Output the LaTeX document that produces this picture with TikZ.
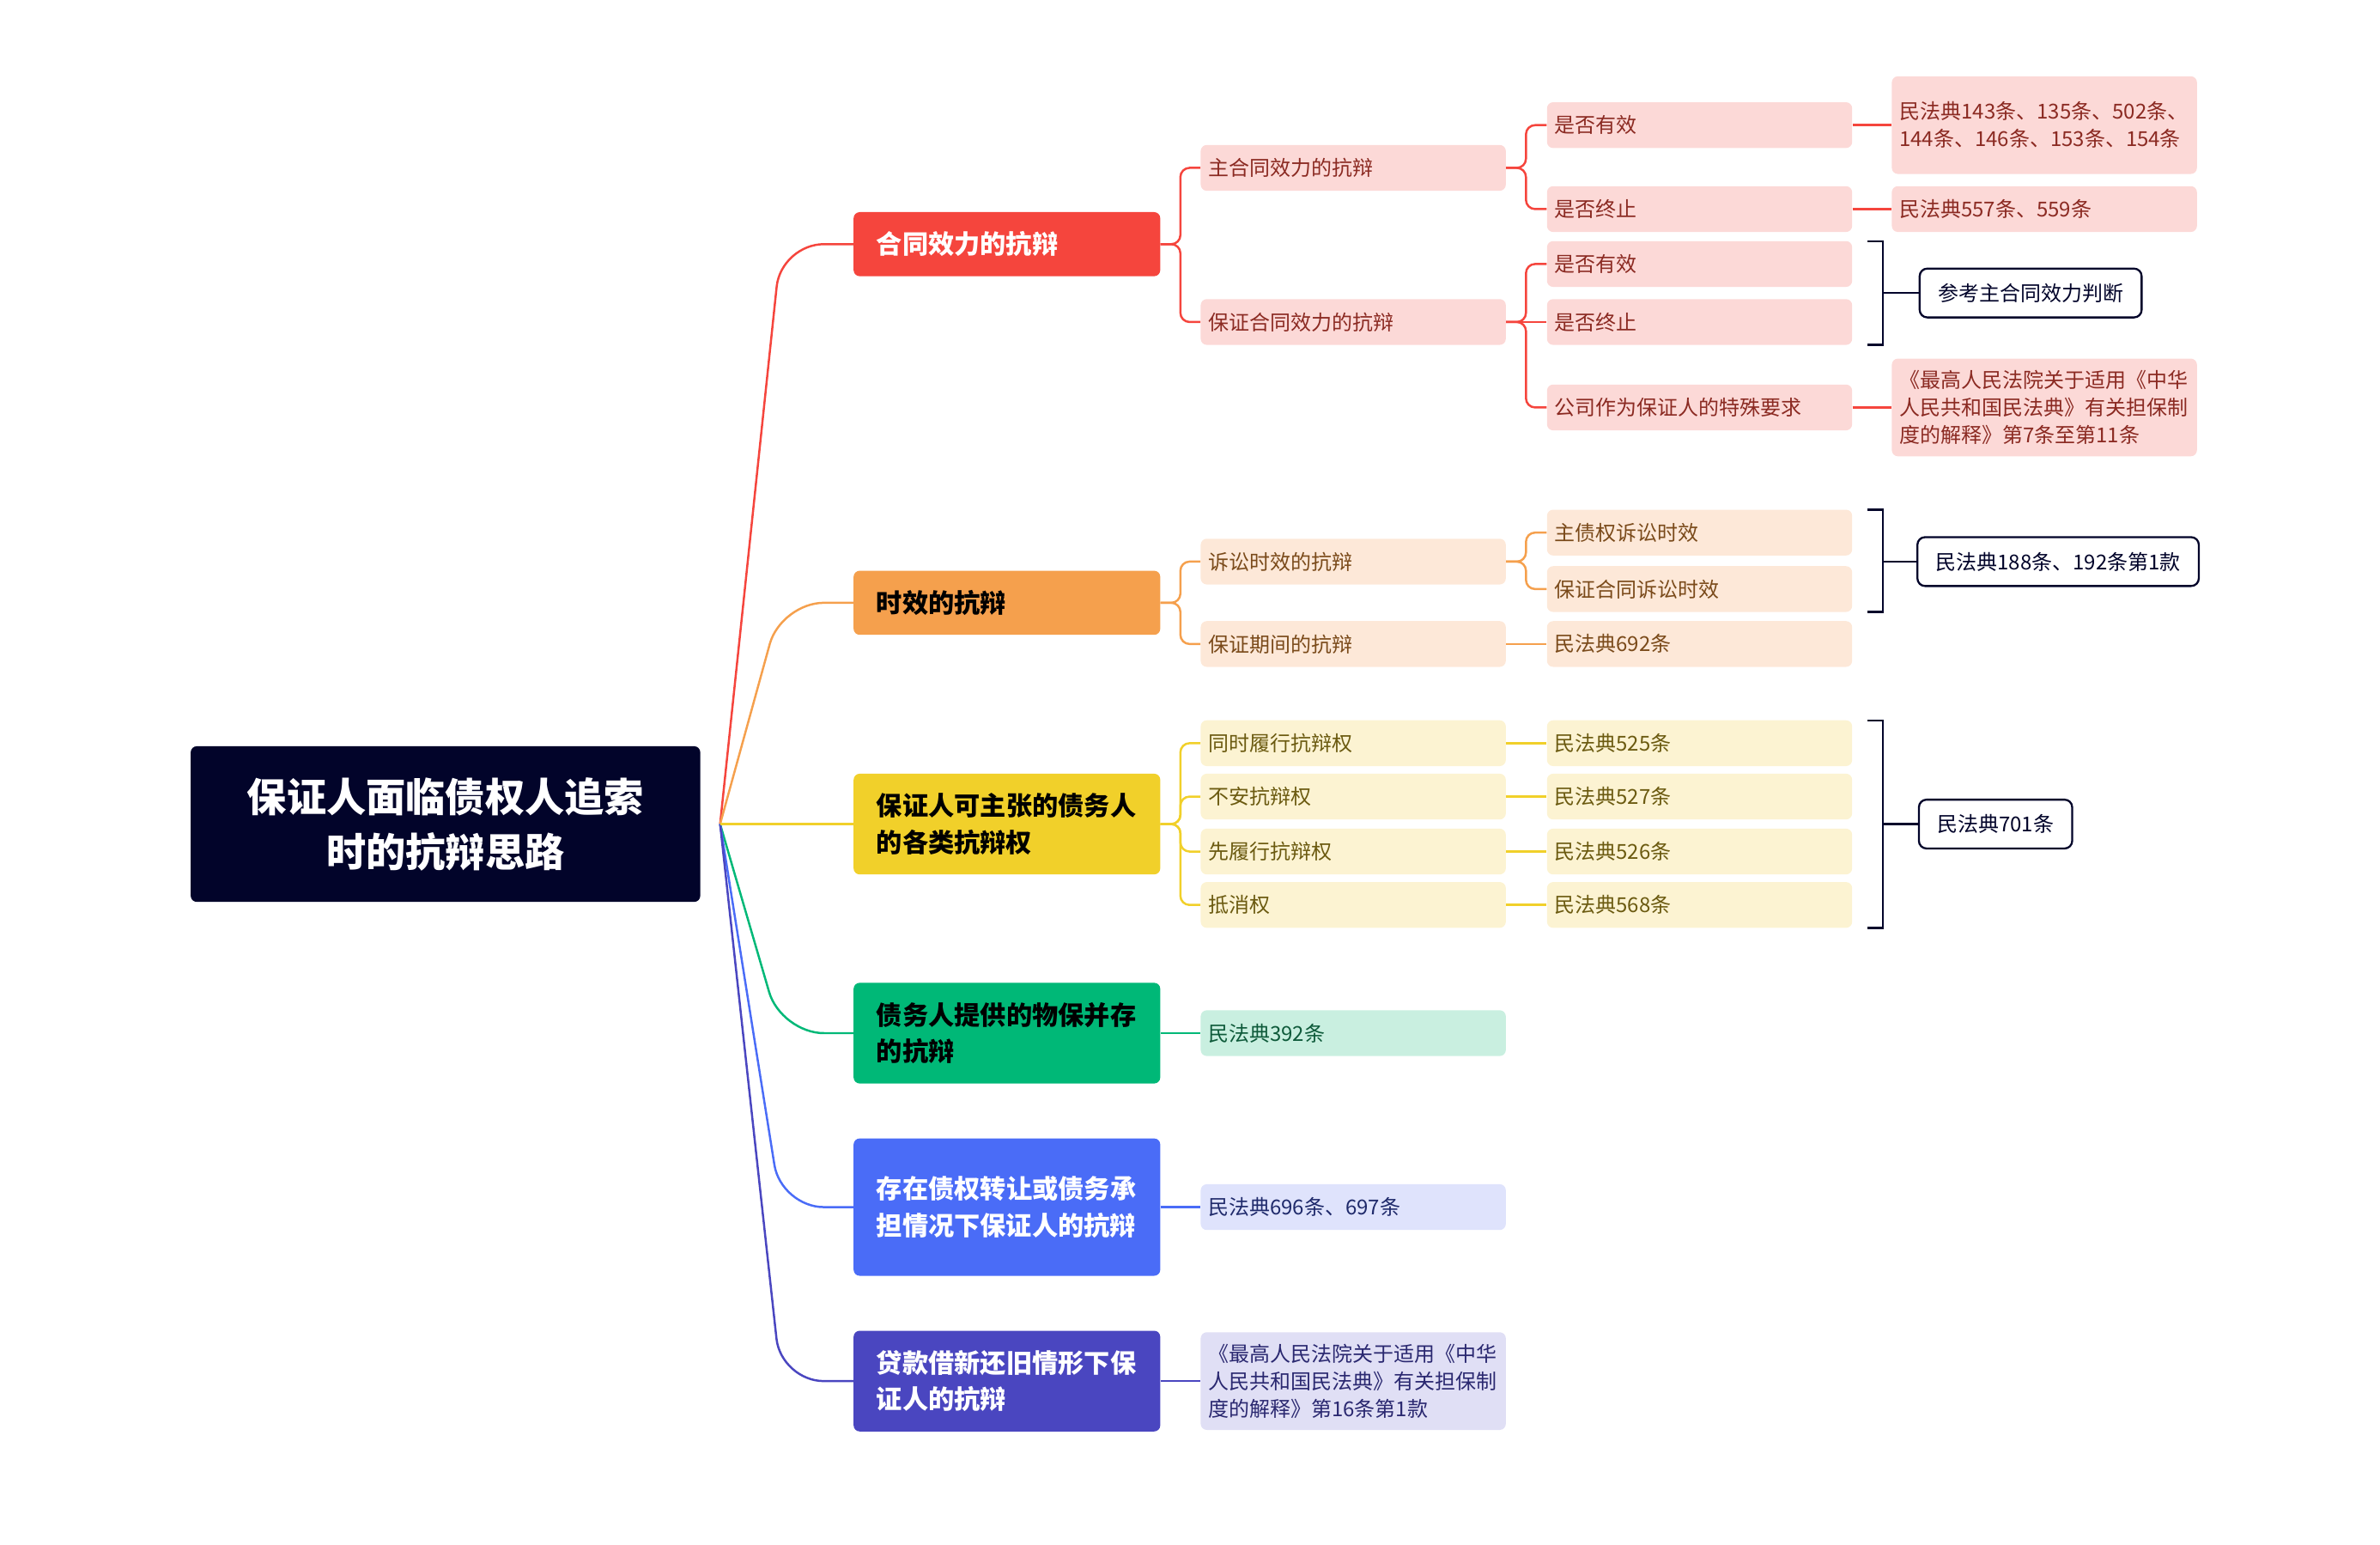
\documentclass[tikz,border=0pt]{standalone}
\usepackage{fontspec}
\setmainfont{Noto Sans CJK SC}
\XeTeXlinebreaklocale "zh"
\XeTeXlinebreakskip=0pt plus 1pt
\definecolor{cR}{HTML}{F5453D}\definecolor{cO}{HTML}{F5A04D}\definecolor{cY}{HTML}{F1D02A}
\definecolor{cG}{HTML}{00B877}\definecolor{cB}{HTML}{4A6CF7}\definecolor{cP}{HTML}{4A46C0}
\definecolor{fR}{HTML}{FCD9D7}\definecolor{fO}{HTML}{FDE8D8}\definecolor{fY}{HTML}{FCF3D2}
\definecolor{fG}{HTML}{C9EFE0}\definecolor{fB}{HTML}{DFE3FC}\definecolor{fP}{HTML}{E0DFF5}
\definecolor{tR}{HTML}{8B2A22}\definecolor{tO}{HTML}{7A4A1A}\definecolor{tY}{HTML}{6B5A10}
\definecolor{tG}{HTML}{0E5A3A}\definecolor{tB}{HTML}{1F2A6B}\definecolor{tP}{HTML}{2A2870}
\definecolor{navy}{HTML}{02042A}
\begin{document}
\begin{tikzpicture}[x=1pt,y=-1pt,
 rootbox/.style={fill=navy,text=white,rounded corners=4pt,minimum width=334pt,minimum height=102pt,align=center,font=\fontsize{26}{36}\selectfont\bfseries,inner sep=0pt},
 lone/.style={rounded corners=4pt,minimum width=201pt,text width=171pt,align=left,inner xsep=15pt,font=\fontsize{17}{24}\selectfont\bfseries},
 ltwo/.style={rounded corners=4pt,minimum width=200pt,minimum height=30pt,text width=190pt,align=left,inner xsep=5pt,inner ysep=2pt,font=\fontsize{13.5}{18}\selectfont},
 refbox/.style={draw=navy,line width=1.3pt,rounded corners=5pt,minimum height=32pt,inner xsep=12pt,fill=white,font=\fontsize{13.5}{18}\selectfont,text=navy},
 conn/.style={line width=1.4pt,rounded corners=6pt},
 br/.style={line width=1.3pt,draw=navy}]
\useasboundingbox (0,0) rectangle (1560,1012);
\node[rootbox] (root) at (292,540) {保证人面临债权人追索\\时的抗辩思路};
% level 1
\node[lone,fill=cR,text=white,minimum height=42pt] (a) at (660,160) {合同效力的抗辩};
\node[lone,fill=cO,text=black,minimum height=42pt] (b) at (660,395) {时效的抗辩};
\node[lone,fill=cY,text=black,minimum height=66pt] (c) at (660,540) {保证人可主张的债务人的各类抗辩权};
\node[lone,fill=cG,text=black,minimum height=66pt] (d) at (660,677) {债务人提供的物保并存的抗辩};
\node[lone,fill=cB,text=white,minimum height=90pt] (e) at (660,791) {存在债权转让或债务承担情况下保证人的抗辩};
\node[lone,fill=cP,text=white,minimum height=66pt] (f) at (660,905) {贷款借新还旧情形下保证人的抗辩};
\coordinate (rs) at (472,540);
\coordinate (xa) at (512,0);
\foreach \n/\c in {a/cR,b/cO,d/cG,e/cB,f/cP}
  \draw[line width=1.4pt,draw=\c,rounded corners=28pt] (rs) -- (\n.west -| xa) -- (\n.west);
\draw[line width=1.4pt,draw=cY] (rs) -- (c.west);
% red
\node[ltwo,fill=fR,text=tR] (a1) at (887,110) {主合同效力的抗辩};
\node[ltwo,fill=fR,text=tR] (a2) at (887,211) {保证合同效力的抗辩};
\node[ltwo,fill=fR,text=tR] (a11) at (1114,82) {是否有效};
\node[ltwo,fill=fR,text=tR] (a12) at (1114,137) {是否终止};
\node[ltwo,fill=fR,text=tR] (a21) at (1114,173) {是否有效};
\node[ltwo,fill=fR,text=tR] (a22) at (1114,211) {是否终止};
\node[ltwo,fill=fR,text=tR] (a23) at (1114,267) {公司作为保证人的特殊要求};
\node[ltwo,fill=fR,text=tR,minimum height=64pt] (a111) at (1340,82) {民法典143条、135条、502条、144条、146条、153条、154条};
\node[ltwo,fill=fR,text=tR] (a121) at (1340,137) {民法典557条、559条};
\node[ltwo,fill=fR,text=tR,minimum height=64pt] (a231) at (1340,267) {《最高人民法院关于适用《中华人民共和国民法典》有关担保制度的解释》第7条至第11条};
\foreach \p/\k in {a/a1,a/a2,a1/a11,a1/a12,a2/a21,a2/a23}
  \draw[conn,cR] (\p.east) -- ++(13,0) |- (\k.west);
\foreach \p/\k in {a2/a22,a11/a111,a12/a121,a23/a231}
  \draw[conn,cR] (\p.east) -- (\k.west);
\node[refbox] (ra) at (1331,192) {参考主合同效力判断};
\draw[br] (1224,158) -- (1234,158) -- (1234,226) -- (1224,226);
\draw[br] (1234,192) -- (ra.west);
% orange
\node[ltwo,fill=fO,text=tO] (b1) at (887,368) {诉讼时效的抗辩};
\node[ltwo,fill=fO,text=tO] (b2) at (887,422) {保证期间的抗辩};
\node[ltwo,fill=fO,text=tO] (b11) at (1114,349) {主债权诉讼时效};
\node[ltwo,fill=fO,text=tO] (b12) at (1114,386) {保证合同诉讼时效};
\node[ltwo,fill=fO,text=tO] (b21) at (1114,422) {民法典692条};
\foreach \p/\k in {b/b1,b/b2,b1/b11,b1/b12}
  \draw[conn,cO] (\p.east) -- ++(13,0) |- (\k.west);
\draw[conn,cO] (b2.east) -- (b21.west);
\node[refbox] (rb) at (1349,368) {民法典188条、192条第1款};
\draw[br] (1224,334) -- (1234,334) -- (1234,401) -- (1224,401);
\draw[br] (1234,368) -- (rb.west);
% yellow
\node[ltwo,fill=fY,text=tY] (c1) at (887,487) {同时履行抗辩权};
\node[ltwo,fill=fY,text=tY] (c2) at (887,522) {不安抗辩权};
\node[ltwo,fill=fY,text=tY] (c3) at (887,558) {先履行抗辩权};
\node[ltwo,fill=fY,text=tY] (c4) at (887,593) {抵消权};
\node[ltwo,fill=fY,text=tY] (c11) at (1114,487) {民法典525条};
\node[ltwo,fill=fY,text=tY] (c21) at (1114,522) {民法典527条};
\node[ltwo,fill=fY,text=tY] (c31) at (1114,558) {民法典526条};
\node[ltwo,fill=fY,text=tY] (c41) at (1114,593) {民法典568条};
\foreach \p/\k in {c/c1,c/c2,c/c3,c/c4}
  \draw[conn,cY] (\p.east) -- ++(13,0) |- (\k.west);
\foreach \p/\k in {c1/c11,c2/c21,c3/c31,c4/c41}
  \draw[conn,cY] (\p.east) -- (\k.west);
\node[refbox] (rc) at (1308,540) {民法典701条};
\draw[br] (1224,472) -- (1234,472) -- (1234,608) -- (1224,608);
\draw[br] (1234,540) -- (rc.west);
% green, blue, purple
\node[ltwo,fill=fG,text=tG] (d1) at (887,677) {民法典392条};
\node[ltwo,fill=fB,text=tB] (e1) at (887,791) {民法典696条、697条};
\node[ltwo,fill=fP,text=tP,minimum height=64pt] (f1) at (887,905) {《最高人民法院关于适用《中华人民共和国民法典》有关担保制度的解释》第16条第1款};
\draw[conn,cG] (d.east) -- (d1.west);
\draw[conn,cB] (e.east) -- (e1.west);
\draw[conn,cP] (f.east) -- (f1.west);
\end{tikzpicture}
\end{document}
